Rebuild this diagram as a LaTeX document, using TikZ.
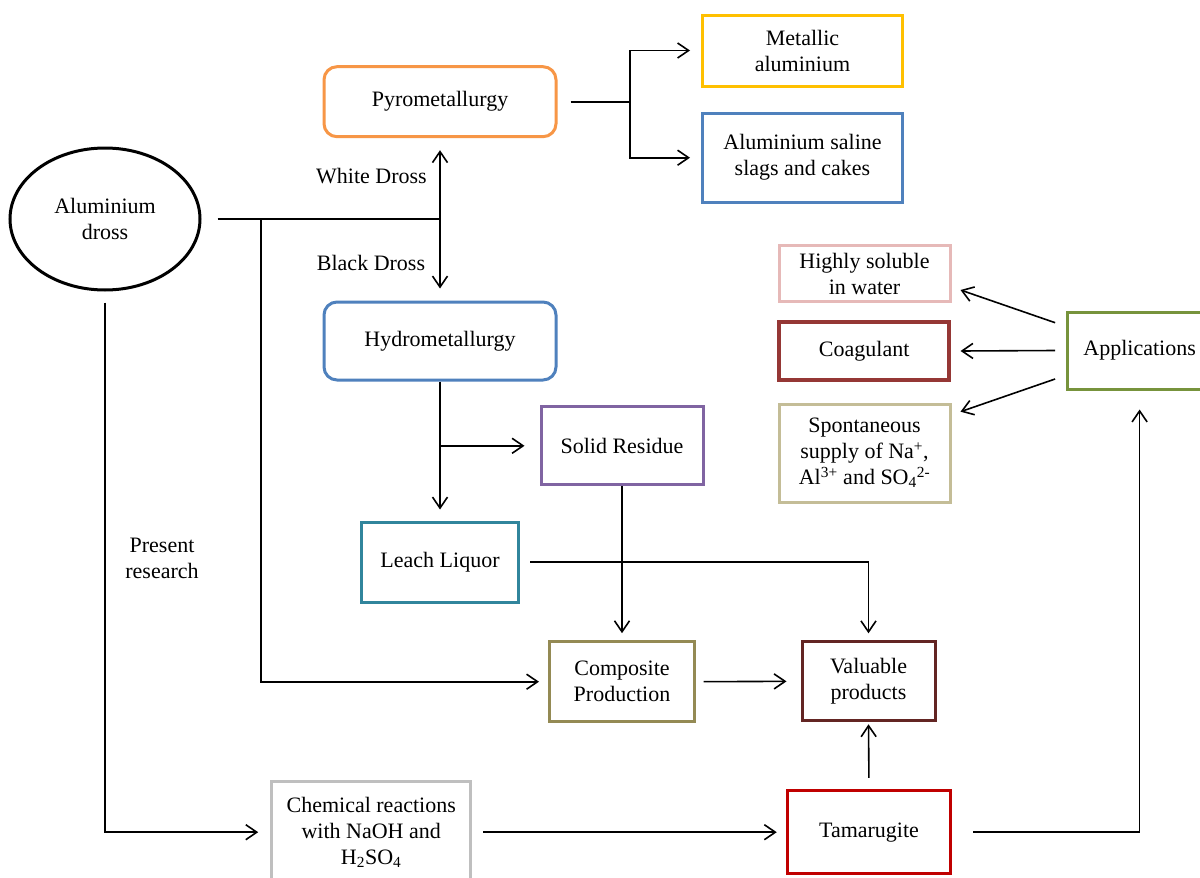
\documentclass[tikz,border=0pt]{standalone}
\usepackage{fontspec}
\setmainfont{Liberation Serif}
\usetikzlibrary{arrows.meta,shapes.geometric,calc}
\definecolor{cPyro}{HTML}{F79646}
\definecolor{cMetal}{HTML}{FFC000}
\definecolor{cBlue}{HTML}{4F81BD}
\definecolor{cPink}{HTML}{E6B9B8}
\definecolor{cCoag}{HTML}{953735}
\definecolor{cSpont}{HTML}{C4BD97}
\definecolor{cApp}{HTML}{77933C}
\definecolor{cSolid}{HTML}{8064A2}
\definecolor{cLeach}{HTML}{31859C}
\definecolor{cComp}{HTML}{948A54}
\definecolor{cVal}{HTML}{632523}
\definecolor{cChem}{HTML}{BFBFBF}
\definecolor{cTam}{HTML}{C00000}
\tikzset{
  txt/.style={font=\fontsize{22}{26}\selectfont, align=center, inner sep=0pt},
  box/.style={txt, draw, line width=3pt, rectangle},
  rbox/.style={box, rounded corners=13pt},
  conn/.style={line width=1.6pt, black},
  arr/.style={conn, -{Straight Barb[length=11pt,width=15pt,line width=1.6pt]}},
}
\begin{document}
\begin{tikzpicture}[x=1pt,y=-1pt]
\useasboundingbox (0,0) rectangle (1200,878);
\clip (0,0) rectangle (1200,878);
\fill[white] (0,0) rectangle (1200,878);

% nodes
\node[txt, draw, ellipse, line width=3pt, minimum width=190pt, minimum height=142pt] (dross) at (105,219) {Aluminium\\dross};
\node[rbox, draw=cPyro, minimum width=232pt, minimum height=70pt] (pyro) at (440,101.7) {Pyrometallurgy};
\node[rbox, draw=cBlue, minimum width=232pt, minimum height=78pt] (hydro) at (440,341) {Hydrometallurgy};
\node[box, draw=cMetal, minimum width=200pt, minimum height=71pt] (metal) at (802.5,50.5) {Metallic\\aluminium};
\node[box, draw=cBlue, minimum width=200pt, minimum height=89pt] (saline) at (802.5,157.7) {Aluminium saline\\slags and cakes};
\node[box, draw=cPink, minimum width=171pt, minimum height=56pt] (high) at (864.5,273.8) {Highly soluble\\in water};
\node[box, draw=cCoag, line width=3.5pt, minimum width=170pt, minimum height=58pt] (coag) at (864.2,351) {Coagulant};
\node[box, draw=cSpont, minimum width=171pt, minimum height=98pt] (spont) at (864.5,453) {Spontaneous\\supply of Na\textsuperscript{+},\\Al\textsuperscript{3+} and SO\textsubscript{4}\textsuperscript{2-}};
\node[box, draw=cApp, minimum width=145pt, minimum height=77pt] (app) at (1139.6,350.5) {Applications};
\node[box, draw=cSolid, minimum width=162pt, minimum height=78pt] (solid) at (622,445.8) {Solid Residue};
\node[box, draw=cLeach, minimum width=157pt, minimum height=80pt] (leach) at (440,562) {Leach Liquor};
\node[box, draw=cComp, minimum width=145pt, minimum height=80pt] (comp) at (622,681.7) {Composite\\Production};
\node[box, draw=cVal, minimum width=133pt, minimum height=79pt] (val) at (868.5,681.3) {Valuable\\products};
\node[box, draw=cChem, minimum width=199pt, minimum height=101pt] (chem) at (371.2,832.2) {Chemical reactions\\with NaOH and\\H\textsubscript{2}SO\textsubscript{4}};
\node[box, draw=cTam, line width=3.5pt, minimum width=163pt, minimum height=83pt] (tam) at (869,832.2) {Tamarugite};

% labels
\node[txt] (white) at (371.5,176) {White Dross};
\node[txt] (black) at (371,263) {Black Dross};
\node[txt] (present) at (162,558) {Present\\research};

% junctions
\coordinate (jd) at (440,219);
\coordinate (jv) at (261,219);
\coordinate (jp) at (630,101.7);
\coordinate (jh) at (440,445.8);

% connectors
\draw[conn, shorten <=16pt] (dross.east) -- (jd);
\draw[arr, shorten >=12pt] (jd) -- (pyro.south);
\draw[arr, shorten >=12pt] (jd) -- (hydro.north);
\draw[arr, shorten >=9pt] (jv) |- (comp.west);
\draw[conn, shorten <=13pt] (pyro.east) -- (jp);
\draw[arr, shorten >=11pt] (jp) |- (metal.west);
\draw[arr, shorten >=11pt] (jp) |- (saline.west);
\draw[arr, shorten >=11pt] (hydro.south) -- (leach.north);
\draw[arr, shorten >=15pt] (jh) -- (solid.west);
\draw[arr, shorten >=7pt] (solid.south) -- (comp.north);
\draw[arr, shorten <=10pt, shorten >=7pt] (leach.east) -| (val.north);
\draw[arr, shorten <=7.5pt, shorten >=14pt] (comp.east) -- (val.west);
\draw[arr, shorten <=11pt, shorten >=2pt] (tam.north) -- (val.south);
\draw[arr, shorten <=11pt, shorten >=12pt] (dross.south) |- (chem.west);
\draw[arr, shorten <=11pt, shorten >=9pt] (chem.east) -- (tam.west);
\draw[arr, shorten <=21pt, shorten >=19pt] (tam.east) -| (app.south);
\draw[arr] ($(app.west)+(-10.5,-27.8)$) -- ($(high.east)+(9,16.2)$);
\draw[arr] ($(app.west)+(-10.5,0)$) -- ($(coag.east)+(9.6,0)$);
\draw[arr] ($(app.west)+(-10.5,28.5)$) -- ($(spont.east)+(9,-41.3)$);
\end{tikzpicture}
\end{document}
